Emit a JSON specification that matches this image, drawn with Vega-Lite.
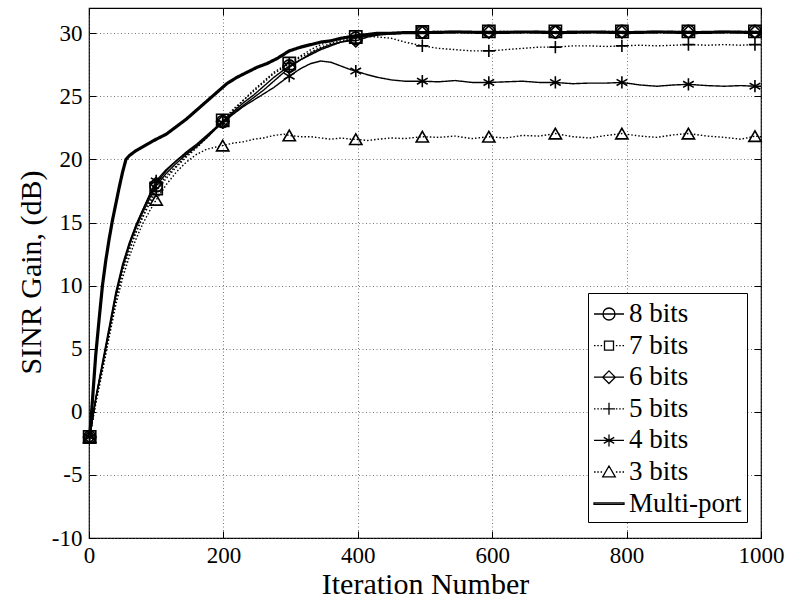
{
  "$schema": "https://vega.github.io/schema/vega-lite/v6.json",
  "width": 672,
  "height": 530,
  "autosize": "none",
  "padding": {"left": 89, "top": 8, "right": 29, "bottom": 61},
  "background": "white",
  "config": {
    "view": {"stroke": "black", "strokeWidth": 1.2},
    "font": "Liberation Serif",
    "axis": {
      "domain": false,
      "tickColor": "black",
      "tickSize": -7,
      "tickWidth": 1,
      "gridColor": "#555555",
      "gridDash": [1, 2.5],
      "gridWidth": 0.8,
      "gridOpacity": 1
    }
  },
  "datasets": {
    "lines": [
      {"s":"Multi-port","x":1,"y":-2},{"s":"Multi-port","x":5,"y":0.8},{"s":"Multi-port","x":10,"y":4.5},{"s":"Multi-port","x":15,"y":7.3},{"s":"Multi-port","x":20,"y":10.0},{"s":"Multi-port","x":25,"y":12.0},{"s":"Multi-port","x":30,"y":13.7},{"s":"Multi-port","x":35,"y":15.2},{"s":"Multi-port","x":40,"y":16.5},{"s":"Multi-port","x":45,"y":17.8},{"s":"Multi-port","x":50,"y":19.0},{"s":"Multi-port","x":55,"y":20.0},{"s":"Multi-port","x":60,"y":20.3},{"s":"Multi-port","x":70,"y":20.7},{"s":"Multi-port","x":80,"y":21.0},{"s":"Multi-port","x":90,"y":21.3},{"s":"Multi-port","x":100,"y":21.6},{"s":"Multi-port","x":115,"y":22.0},{"s":"Multi-port","x":130,"y":22.6},{"s":"Multi-port","x":145,"y":23.2},{"s":"Multi-port","x":160,"y":23.9},{"s":"Multi-port","x":175,"y":24.6},{"s":"Multi-port","x":190,"y":25.3},{"s":"Multi-port","x":205,"y":26.0},{"s":"Multi-port","x":220,"y":26.5},{"s":"Multi-port","x":235,"y":26.9},{"s":"Multi-port","x":250,"y":27.3},{"s":"Multi-port","x":265,"y":27.6},{"s":"Multi-port","x":280,"y":28.0},{"s":"Multi-port","x":298,"y":28.6},{"s":"Multi-port","x":315,"y":28.9},{"s":"Multi-port","x":330,"y":29.1},{"s":"Multi-port","x":345,"y":29.3},{"s":"Multi-port","x":360,"y":29.4},{"s":"Multi-port","x":375,"y":29.6},{"s":"Multi-port","x":397,"y":29.8},{"s":"Multi-port","x":415,"y":29.9},{"s":"Multi-port","x":430,"y":30.0},{"s":"Multi-port","x":450,"y":30.0},{"s":"Multi-port","x":470,"y":30.05},{"s":"Multi-port","x":500,"y":30.05},{"s":"Multi-port","x":550,"y":30.1},{"s":"Multi-port","x":600,"y":30.05},{"s":"Multi-port","x":650,"y":30.1},{"s":"Multi-port","x":700,"y":30.05},{"s":"Multi-port","x":750,"y":30.1},{"s":"Multi-port","x":800,"y":30.05},{"s":"Multi-port","x":850,"y":30.1},{"s":"Multi-port","x":900,"y":30.05},{"s":"Multi-port","x":950,"y":30.1},{"s":"Multi-port","x":1000,"y":30.05},

      {"s":"8 bits","x":1,"y":-2},{"s":"8 bits","x":10,"y":1.0},{"s":"8 bits","x":20,"y":3.7},{"s":"8 bits","x":30,"y":6.5},{"s":"8 bits","x":40,"y":9.3},{"s":"8 bits","x":50,"y":11.5},{"s":"8 bits","x":60,"y":13.2},{"s":"8 bits","x":70,"y":14.6},{"s":"8 bits","x":80,"y":15.8},{"s":"8 bits","x":90,"y":16.9},{"s":"8 bits","x":100,"y":17.9},{"s":"8 bits","x":115,"y":18.9},{"s":"8 bits","x":130,"y":19.7},{"s":"8 bits","x":145,"y":20.4},{"s":"8 bits","x":160,"y":21.0},{"s":"8 bits","x":175,"y":21.7},{"s":"8 bits","x":190,"y":22.5},{"s":"8 bits","x":199,"y":23.0},{"s":"8 bits","x":215,"y":23.8},{"s":"8 bits","x":230,"y":24.5},{"s":"8 bits","x":245,"y":25.1},{"s":"8 bits","x":260,"y":25.8},{"s":"8 bits","x":275,"y":26.5},{"s":"8 bits","x":290,"y":27.1},{"s":"8 bits","x":298,"y":27.4},{"s":"8 bits","x":315,"y":27.9},{"s":"8 bits","x":330,"y":28.3},{"s":"8 bits","x":345,"y":28.7},{"s":"8 bits","x":360,"y":29.0},{"s":"8 bits","x":375,"y":29.3},{"s":"8 bits","x":390,"y":29.5},{"s":"8 bits","x":397,"y":29.6},{"s":"8 bits","x":415,"y":29.8},{"s":"8 bits","x":430,"y":29.9},{"s":"8 bits","x":450,"y":30.0},{"s":"8 bits","x":470,"y":30.05},{"s":"8 bits","x":496,"y":30.1},{"s":"8 bits","x":520,"y":30.1},{"s":"8 bits","x":545,"y":30.15},{"s":"8 bits","x":570,"y":30.1},{"s":"8 bits","x":595,"y":30.15},{"s":"8 bits","x":620,"y":30.1},{"s":"8 bits","x":645,"y":30.1},{"s":"8 bits","x":670,"y":30.15},{"s":"8 bits","x":694,"y":30.1},{"s":"8 bits","x":720,"y":30.15},{"s":"8 bits","x":745,"y":30.1},{"s":"8 bits","x":770,"y":30.1},{"s":"8 bits","x":793,"y":30.15},{"s":"8 bits","x":820,"y":30.1},{"s":"8 bits","x":845,"y":30.15},{"s":"8 bits","x":870,"y":30.1},{"s":"8 bits","x":892,"y":30.15},{"s":"8 bits","x":920,"y":30.1},{"s":"8 bits","x":945,"y":30.15},{"s":"8 bits","x":970,"y":30.1},{"s":"8 bits","x":991,"y":30.15},{"s":"8 bits","x":1000,"y":30.1},

      {"s":"7 bits","x":1,"y":-2},{"s":"7 bits","x":10,"y":0.8},{"s":"7 bits","x":20,"y":3.4},{"s":"7 bits","x":30,"y":6.2},{"s":"7 bits","x":40,"y":9.0},{"s":"7 bits","x":50,"y":11.2},{"s":"7 bits","x":60,"y":12.9},{"s":"7 bits","x":70,"y":14.3},{"s":"7 bits","x":80,"y":15.5},{"s":"7 bits","x":90,"y":16.7},{"s":"7 bits","x":100,"y":17.7},{"s":"7 bits","x":115,"y":18.7},{"s":"7 bits","x":130,"y":19.5},{"s":"7 bits","x":145,"y":20.3},{"s":"7 bits","x":160,"y":21.0},{"s":"7 bits","x":175,"y":21.8},{"s":"7 bits","x":190,"y":22.6},{"s":"7 bits","x":199,"y":23.1},{"s":"7 bits","x":215,"y":24.0},{"s":"7 bits","x":230,"y":24.7},{"s":"7 bits","x":245,"y":25.4},{"s":"7 bits","x":260,"y":26.1},{"s":"7 bits","x":275,"y":26.8},{"s":"7 bits","x":290,"y":27.3},{"s":"7 bits","x":298,"y":27.6},{"s":"7 bits","x":315,"y":28.1},{"s":"7 bits","x":330,"y":28.5},{"s":"7 bits","x":345,"y":28.9},{"s":"7 bits","x":360,"y":29.2},{"s":"7 bits","x":375,"y":29.4},{"s":"7 bits","x":390,"y":29.6},{"s":"7 bits","x":397,"y":29.7},{"s":"7 bits","x":415,"y":29.85},{"s":"7 bits","x":430,"y":29.95},{"s":"7 bits","x":450,"y":30.0},{"s":"7 bits","x":470,"y":30.05},{"s":"7 bits","x":496,"y":30.1},{"s":"7 bits","x":520,"y":30.15},{"s":"7 bits","x":545,"y":30.1},{"s":"7 bits","x":570,"y":30.1},{"s":"7 bits","x":595,"y":30.15},{"s":"7 bits","x":620,"y":30.15},{"s":"7 bits","x":645,"y":30.1},{"s":"7 bits","x":670,"y":30.1},{"s":"7 bits","x":694,"y":30.15},{"s":"7 bits","x":720,"y":30.1},{"s":"7 bits","x":745,"y":30.1},{"s":"7 bits","x":770,"y":30.15},{"s":"7 bits","x":793,"y":30.15},{"s":"7 bits","x":820,"y":30.1},{"s":"7 bits","x":845,"y":30.1},{"s":"7 bits","x":870,"y":30.15},{"s":"7 bits","x":892,"y":30.15},{"s":"7 bits","x":920,"y":30.1},{"s":"7 bits","x":945,"y":30.1},{"s":"7 bits","x":970,"y":30.15},{"s":"7 bits","x":991,"y":30.15},{"s":"7 bits","x":1000,"y":30.1},

      {"s":"6 bits","x":1,"y":-2},{"s":"6 bits","x":10,"y":1.1},{"s":"6 bits","x":20,"y":3.9},{"s":"6 bits","x":30,"y":6.7},{"s":"6 bits","x":40,"y":9.5},{"s":"6 bits","x":50,"y":11.7},{"s":"6 bits","x":60,"y":13.4},{"s":"6 bits","x":70,"y":14.8},{"s":"6 bits","x":80,"y":16.0},{"s":"6 bits","x":90,"y":17.1},{"s":"6 bits","x":100,"y":18.1},{"s":"6 bits","x":115,"y":19.1},{"s":"6 bits","x":130,"y":19.9},{"s":"6 bits","x":145,"y":20.6},{"s":"6 bits","x":160,"y":21.2},{"s":"6 bits","x":175,"y":21.9},{"s":"6 bits","x":190,"y":22.6},{"s":"6 bits","x":199,"y":23.0},{"s":"6 bits","x":215,"y":23.7},{"s":"6 bits","x":230,"y":24.3},{"s":"6 bits","x":245,"y":24.9},{"s":"6 bits","x":260,"y":25.5},{"s":"6 bits","x":275,"y":26.2},{"s":"6 bits","x":290,"y":26.9},{"s":"6 bits","x":298,"y":27.3},{"s":"6 bits","x":315,"y":27.9},{"s":"6 bits","x":330,"y":28.4},{"s":"6 bits","x":345,"y":28.8},{"s":"6 bits","x":360,"y":29.1},{"s":"6 bits","x":375,"y":29.3},{"s":"6 bits","x":390,"y":29.4},{"s":"6 bits","x":397,"y":29.4},{"s":"6 bits","x":415,"y":29.7},{"s":"6 bits","x":430,"y":29.85},{"s":"6 bits","x":450,"y":29.95},{"s":"6 bits","x":470,"y":30.0},{"s":"6 bits","x":496,"y":30.05},{"s":"6 bits","x":520,"y":30.05},{"s":"6 bits","x":545,"y":30.1},{"s":"6 bits","x":570,"y":30.05},{"s":"6 bits","x":595,"y":30.1},{"s":"6 bits","x":620,"y":30.05},{"s":"6 bits","x":645,"y":30.1},{"s":"6 bits","x":670,"y":30.05},{"s":"6 bits","x":694,"y":30.1},{"s":"6 bits","x":720,"y":30.05},{"s":"6 bits","x":745,"y":30.1},{"s":"6 bits","x":770,"y":30.05},{"s":"6 bits","x":793,"y":30.1},{"s":"6 bits","x":820,"y":30.05},{"s":"6 bits","x":845,"y":30.1},{"s":"6 bits","x":870,"y":30.05},{"s":"6 bits","x":892,"y":30.1},{"s":"6 bits","x":920,"y":30.05},{"s":"6 bits","x":945,"y":30.1},{"s":"6 bits","x":970,"y":30.05},{"s":"6 bits","x":991,"y":30.1},{"s":"6 bits","x":1000,"y":30.05},

      {"s":"5 bits","x":1,"y":-2},{"s":"5 bits","x":10,"y":0.9},{"s":"5 bits","x":20,"y":3.5},{"s":"5 bits","x":30,"y":6.2},{"s":"5 bits","x":40,"y":8.9},{"s":"5 bits","x":50,"y":11.1},{"s":"5 bits","x":60,"y":12.8},{"s":"5 bits","x":70,"y":14.2},{"s":"5 bits","x":80,"y":15.4},{"s":"5 bits","x":90,"y":16.5},{"s":"5 bits","x":100,"y":17.5},{"s":"5 bits","x":115,"y":18.5},{"s":"5 bits","x":130,"y":19.4},{"s":"5 bits","x":145,"y":20.2},{"s":"5 bits","x":160,"y":20.9},{"s":"5 bits","x":175,"y":21.7},{"s":"5 bits","x":190,"y":22.5},{"s":"5 bits","x":199,"y":23.0},{"s":"5 bits","x":215,"y":23.9},{"s":"5 bits","x":230,"y":24.7},{"s":"5 bits","x":245,"y":25.5},{"s":"5 bits","x":260,"y":26.2},{"s":"5 bits","x":275,"y":26.9},{"s":"5 bits","x":290,"y":27.4},{"s":"5 bits","x":298,"y":27.6},{"s":"5 bits","x":315,"y":28.2},{"s":"5 bits","x":330,"y":28.7},{"s":"5 bits","x":345,"y":29.1},{"s":"5 bits","x":360,"y":29.4},{"s":"5 bits","x":375,"y":29.6},{"s":"5 bits","x":390,"y":29.7},{"s":"5 bits","x":397,"y":29.7},{"s":"5 bits","x":415,"y":29.75},{"s":"5 bits","x":430,"y":29.7},{"s":"5 bits","x":450,"y":29.6},{"s":"5 bits","x":470,"y":29.3},{"s":"5 bits","x":496,"y":29.0},{"s":"5 bits","x":520,"y":28.8},{"s":"5 bits","x":545,"y":28.7},{"s":"5 bits","x":570,"y":28.6},{"s":"5 bits","x":595,"y":28.6},{"s":"5 bits","x":620,"y":28.7},{"s":"5 bits","x":645,"y":28.8},{"s":"5 bits","x":670,"y":28.9},{"s":"5 bits","x":694,"y":28.9},{"s":"5 bits","x":720,"y":29.0},{"s":"5 bits","x":745,"y":29.0},{"s":"5 bits","x":770,"y":28.95},{"s":"5 bits","x":793,"y":29.0},{"s":"5 bits","x":820,"y":29.05},{"s":"5 bits","x":845,"y":29.0},{"s":"5 bits","x":870,"y":29.05},{"s":"5 bits","x":892,"y":29.1},{"s":"5 bits","x":920,"y":29.05},{"s":"5 bits","x":945,"y":29.1},{"s":"5 bits","x":970,"y":29.05},{"s":"5 bits","x":991,"y":29.1},{"s":"5 bits","x":1000,"y":29.1},

      {"s":"4 bits","x":1,"y":-2},{"s":"4 bits","x":10,"y":1.0},{"s":"4 bits","x":20,"y":3.7},{"s":"4 bits","x":30,"y":6.4},{"s":"4 bits","x":40,"y":9.2},{"s":"4 bits","x":50,"y":11.5},{"s":"4 bits","x":60,"y":13.3},{"s":"4 bits","x":70,"y":14.8},{"s":"4 bits","x":80,"y":16.0},{"s":"4 bits","x":90,"y":17.2},{"s":"4 bits","x":100,"y":18.3},{"s":"4 bits","x":115,"y":19.2},{"s":"4 bits","x":130,"y":19.9},{"s":"4 bits","x":145,"y":20.5},{"s":"4 bits","x":160,"y":21.1},{"s":"4 bits","x":175,"y":21.8},{"s":"4 bits","x":190,"y":22.5},{"s":"4 bits","x":199,"y":22.9},{"s":"4 bits","x":215,"y":23.6},{"s":"4 bits","x":230,"y":24.2},{"s":"4 bits","x":245,"y":24.7},{"s":"4 bits","x":260,"y":25.2},{"s":"4 bits","x":275,"y":25.7},{"s":"4 bits","x":290,"y":26.3},{"s":"4 bits","x":298,"y":26.6},{"s":"4 bits","x":315,"y":27.2},{"s":"4 bits","x":330,"y":27.6},{"s":"4 bits","x":345,"y":27.8},{"s":"4 bits","x":360,"y":27.7},{"s":"4 bits","x":375,"y":27.4},{"s":"4 bits","x":390,"y":27.1},{"s":"4 bits","x":397,"y":27.0},{"s":"4 bits","x":415,"y":26.7},{"s":"4 bits","x":430,"y":26.5},{"s":"4 bits","x":450,"y":26.3},{"s":"4 bits","x":470,"y":26.2},{"s":"4 bits","x":496,"y":26.2},{"s":"4 bits","x":520,"y":26.15},{"s":"4 bits","x":545,"y":26.25},{"s":"4 bits","x":570,"y":26.1},{"s":"4 bits","x":595,"y":26.1},{"s":"4 bits","x":620,"y":26.15},{"s":"4 bits","x":645,"y":26.2},{"s":"4 bits","x":670,"y":26.1},{"s":"4 bits","x":694,"y":26.1},{"s":"4 bits","x":720,"y":26.0},{"s":"4 bits","x":745,"y":26.05},{"s":"4 bits","x":770,"y":26.05},{"s":"4 bits","x":793,"y":26.1},{"s":"4 bits","x":820,"y":25.9},{"s":"4 bits","x":845,"y":25.8},{"s":"4 bits","x":870,"y":25.9},{"s":"4 bits","x":892,"y":25.95},{"s":"4 bits","x":920,"y":25.85},{"s":"4 bits","x":945,"y":25.8},{"s":"4 bits","x":970,"y":25.85},{"s":"4 bits","x":991,"y":25.8},{"s":"4 bits","x":1000,"y":25.8},

      {"s":"3 bits","x":1,"y":-2},{"s":"3 bits","x":10,"y":0.6},{"s":"3 bits","x":20,"y":3.2},{"s":"3 bits","x":30,"y":5.9},{"s":"3 bits","x":40,"y":8.5},{"s":"3 bits","x":50,"y":10.6},{"s":"3 bits","x":60,"y":12.3},{"s":"3 bits","x":70,"y":13.7},{"s":"3 bits","x":80,"y":14.9},{"s":"3 bits","x":90,"y":15.9},{"s":"3 bits","x":100,"y":16.8},{"s":"3 bits","x":115,"y":18.0},{"s":"3 bits","x":130,"y":19.0},{"s":"3 bits","x":145,"y":19.8},{"s":"3 bits","x":160,"y":20.4},{"s":"3 bits","x":175,"y":20.8},{"s":"3 bits","x":190,"y":21.0},{"s":"3 bits","x":199,"y":21.1},{"s":"3 bits","x":215,"y":21.3},{"s":"3 bits","x":230,"y":21.4},{"s":"3 bits","x":245,"y":21.6},{"s":"3 bits","x":260,"y":21.7},{"s":"3 bits","x":275,"y":21.9},{"s":"3 bits","x":290,"y":22.0},{"s":"3 bits","x":298,"y":21.9},{"s":"3 bits","x":315,"y":21.8},{"s":"3 bits","x":330,"y":21.8},{"s":"3 bits","x":345,"y":21.7},{"s":"3 bits","x":360,"y":21.6},{"s":"3 bits","x":375,"y":21.7},{"s":"3 bits","x":390,"y":21.6},{"s":"3 bits","x":397,"y":21.6},{"s":"3 bits","x":415,"y":21.5},{"s":"3 bits","x":430,"y":21.6},{"s":"3 bits","x":450,"y":21.7},{"s":"3 bits","x":470,"y":21.65},{"s":"3 bits","x":496,"y":21.8},{"s":"3 bits","x":520,"y":21.75},{"s":"3 bits","x":545,"y":21.85},{"s":"3 bits","x":570,"y":21.65},{"s":"3 bits","x":595,"y":21.8},{"s":"3 bits","x":620,"y":21.7},{"s":"3 bits","x":645,"y":21.9},{"s":"3 bits","x":670,"y":21.85},{"s":"3 bits","x":694,"y":22.05},{"s":"3 bits","x":720,"y":21.8},{"s":"3 bits","x":745,"y":21.7},{"s":"3 bits","x":770,"y":21.9},{"s":"3 bits","x":793,"y":22.05},{"s":"3 bits","x":820,"y":21.85},{"s":"3 bits","x":845,"y":21.75},{"s":"3 bits","x":870,"y":21.95},{"s":"3 bits","x":892,"y":22.05},{"s":"3 bits","x":920,"y":21.85},{"s":"3 bits","x":945,"y":21.75},{"s":"3 bits","x":970,"y":21.6},{"s":"3 bits","x":991,"y":21.85},{"s":"3 bits","x":1000,"y":21.8}
    ]
  },
  "layer": [
    {
      "data": {"name": "lines"},
      "transform": [{"filter": "datum.s === 'Multi-port'"}],
      "mark": {"type": "line", "stroke": "black", "strokeWidth": 3.2},
      "encoding": {
        "x": {"field": "x", "type": "quantitative", "scale": {"domain": [0, 1000], "nice": false},
              "axis": {"values": [0, 200, 400, 600, 800, 1000], "labelExpr": "'' + datum.value", "labelFlush": false, "title": "Iteration Number",
                       "labelFont": "Liberation Serif", "labelFontSize": 23, "labelColor": "black", "labelPadding": 13,
                       "titleFont": "Liberation Serif", "titleFontSize": 30, "titleFontWeight": "normal", "titleColor": "black",
                       "titleBaseline": "alphabetic", "titleY": 55, "grid": true}},
        "y": {"field": "y", "type": "quantitative", "scale": {"domain": [-10, 32], "nice": false, "zero": false},
              "axis": {"values": [-10, -5, 0, 5, 10, 15, 20, 25, 30], "labelExpr": "'' + datum.value", "labelFlush": false, "title": "SINR Gain, (dB)",
                       "labelFont": "Liberation Serif", "labelFontSize": 23, "labelColor": "black", "labelPadding": 14,
                       "titleFont": "Liberation Serif", "titleFontSize": 30, "titleFontWeight": "normal", "titleColor": "black",
                       "titleBaseline": "alphabetic", "titleX": -49, "titleY": 264, "titleAngle": -90, "grid": true}},
        "strokeDash": {
          "field": "s", "type": "nominal",
          "scale": {"domain": ["8 bits", "7 bits", "6 bits", "5 bits", "4 bits", "3 bits", "Multi-port"],
                    "range": [[1, 0], [1.5, 2], [1, 0], [1.5, 2], [1, 0], [1.5, 2], [1, 0]]},
          "legend": null
        }
      }
    },
    {
      "data": {"name": "lines"},
      "transform": [{"filter": "datum.s !== 'Multi-port'"}],
      "mark": {"type": "line", "stroke": "black", "strokeWidth": 1.4},
      "encoding": {
        "x": {"field": "x", "type": "quantitative", "axis": null},
        "y": {"field": "y", "type": "quantitative", "axis": null},
        "strokeDash": {"field": "s", "type": "nominal", "legend": null}
      }
    },
    {
      "data": {"name": "lines"},
      "transform": [
        {"filter": "datum.s !== 'Multi-port'"},
        {"filter": {"field": "x", "oneOf": [1, 100, 199, 298, 397, 496, 595, 694, 793, 892, 991]}}
      ],
      "mark": {"type": "point", "filled": false, "stroke": "black", "strokeWidth": 1.6, "size": 150, "opacity": 1},
      "encoding": {
        "x": {"field": "x", "type": "quantitative",
              "axis": {"orient": "top", "values": [0, 200, 400, 600, 800, 1000], "labels": false, "title": null, "grid": false}},
        "y": {"field": "y", "type": "quantitative",
              "axis": {"orient": "right", "values": [-10, -5, 0, 5, 10, 15, 20, 25, 30], "labels": false, "title": null, "grid": false}},
        "shape": {
          "field": "s", "type": "nominal",
          "scale": {"domain": ["8 bits", "7 bits", "6 bits", "5 bits", "4 bits", "3 bits"],
                    "range": ["circle", "square", "diamond", "M0,-1V1M-1,0H1", "M0,-1V1M-0.87,-0.5L0.87,0.5M-0.87,0.5L0.87,-0.5", "triangle-up"]},
          "legend": null
        }
      }
    },
    {
      "data": {"name": "lines"},
      "transform": [{"filter": "false"}],
      "mark": {"type": "point", "filled": false, "stroke": "black", "strokeWidth": 1.3, "size": 900, "opacity": 1},
      "encoding": {
        "x": {"field": "x", "type": "quantitative", "axis": null},
        "y": {"field": "y", "type": "quantitative", "axis": null},
        "shape": {
          "field": "s", "type": "nominal",
          "scale": {"domain": ["8 bits", "7 bits", "6 bits", "5 bits", "4 bits", "3 bits", "Multi-port"],
                    "range": [
                      "M-1,0H1M-0.4,0A0.4,0.4 0 1,1 0.4,0A0.4,0.4 0 1,1 -0.4,0",
                      "M-1,0H-0.9M-0.78,0H-0.68M-0.56,0H-0.46M0.46,0H0.56M0.68,0H0.78M0.9,0H1M-0.3,-0.3H0.3V0.3H-0.3Z",
                      "M-1,0H1M0,-0.42L0.42,0L0,0.42L-0.42,0Z",
                      "M-1,0H-0.9M-0.78,0H-0.68M-0.56,0H-0.46M0,-0.4V0.4M-0.4,0H0.4M0.46,0H0.56M0.68,0H0.78M0.9,0H1",
                      "M-1,0H1M0,-0.4V0.4M-0.35,-0.2L0.35,0.2M-0.35,0.2L0.35,-0.2",
                      "M-1,0H-0.9M-0.78,0H-0.68M-0.56,0H-0.46M0.46,0H0.56M0.68,0H0.78M0.9,0H1M0,-0.4L0.42,0.32H-0.42Z",
                      "M-1,-0.05H1V0.05H-1Z"
                    ]},
          "legend": {
            "title": null, "orient": "none", "legendX": 499, "legendY": 285,
            "padding": 5, "strokeColor": "black", "fillColor": "white",
            "symbolSize": 900, "symbolStrokeWidth": 1.3, "symbolStrokeColor": "black", "symbolFillColor": "transparent",
            "labelFont": "Liberation Serif", "labelFontSize": 27, "labelColor": "black",
            "labelOffset": 4, "rowPadding": 2.6
          }
        }
      }
    }
  ],
  "resolve": {"axis": {"x": "independent", "y": "independent"}, "scale": {"shape": "independent"}}
}
